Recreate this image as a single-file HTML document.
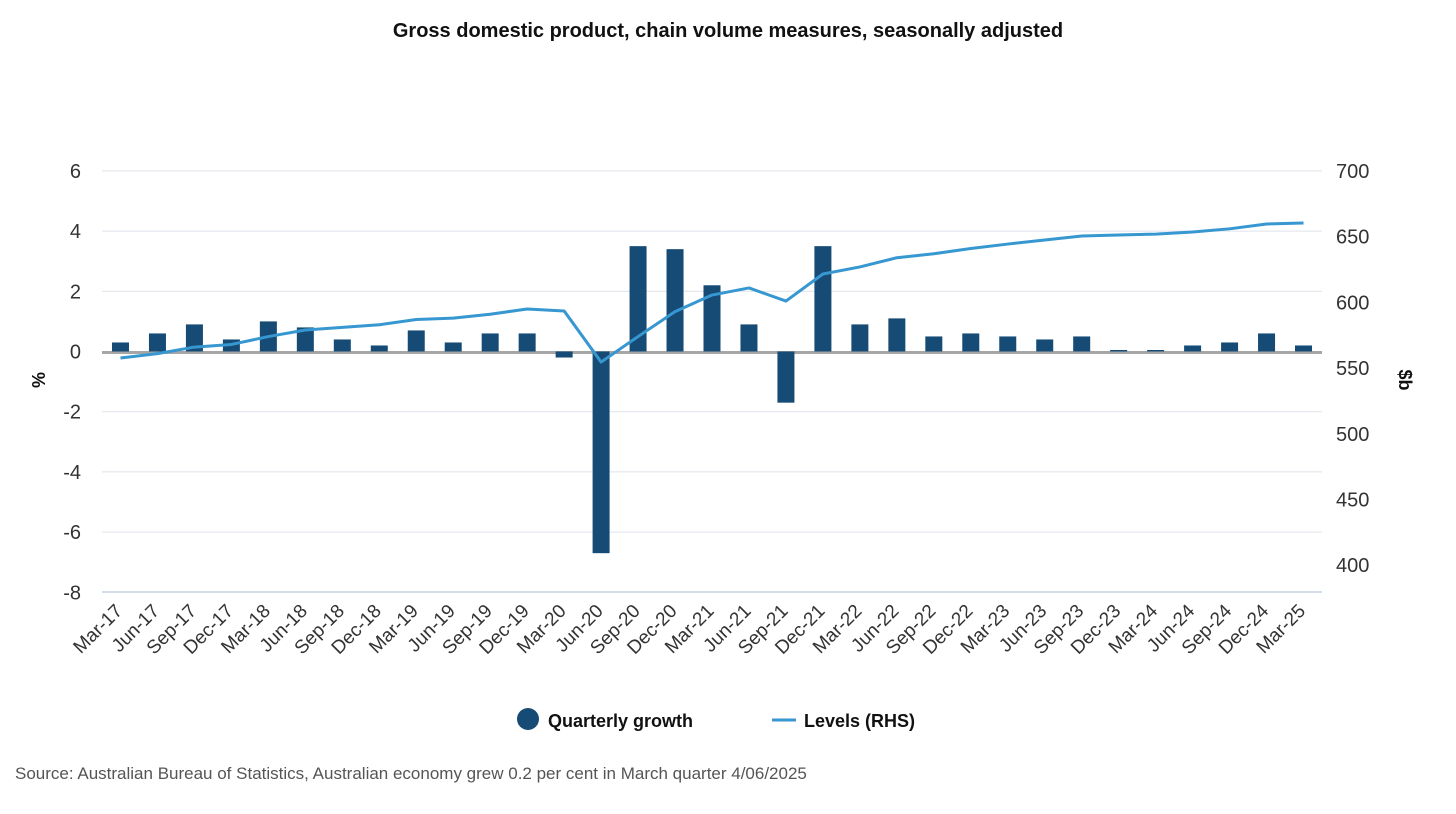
<!DOCTYPE html>
<html><head><meta charset="utf-8"><style>
body{margin:0;background:#fff;font-family:"Liberation Sans",Arial,sans-serif}
svg text{font-family:"Liberation Sans",Arial,sans-serif}
</style></head><body>
<svg id="c" width="1456" height="809" viewBox="0 0 1456 809">
<text x="728" y="37" text-anchor="middle" font-size="20" font-weight="bold" fill="#111">Gross domestic product, chain volume measures, seasonally adjusted</text>
<g id="grid"></g><g id="bars"></g><g id="line"></g><g id="axes"></g>
<text transform="translate(45,380) rotate(-90)" text-anchor="middle" font-size="18" font-weight="bold" fill="#111">%</text>
<text transform="translate(1399,380) rotate(90)" text-anchor="middle" font-size="18" font-weight="bold" fill="#111">$b</text>
<g>
<circle cx="528" cy="719" r="11" fill="#154b75"/>
<text x="548" y="727" font-size="18" font-weight="bold" fill="#111">Quarterly growth</text>
<line x1="772" y1="720" x2="796" y2="720" stroke="#3797d0" stroke-width="3"/>
<text x="804" y="727" font-size="18" font-weight="bold" fill="#111">Levels (RHS)</text>
</g>
<text x="15" y="779" font-size="17" fill="#555">Source: Australian Bureau of Statistics, Australian economy grew 0.2 per cent in March quarter 4/06/2025</text>
</svg>
<script>
const categories=["Mar-17","Jun-17","Sep-17","Dec-17","Mar-18","Jun-18","Sep-18","Dec-18","Mar-19","Jun-19","Sep-19","Dec-19","Mar-20","Jun-20","Sep-20","Dec-20","Mar-21","Jun-21","Sep-21","Dec-21","Mar-22","Jun-22","Sep-22","Dec-22","Mar-23","Jun-23","Sep-23","Dec-23","Mar-24","Jun-24","Sep-24","Dec-24","Mar-25"];
const growth=[0.3,0.6,0.9,0.4,1.0,0.8,0.4,0.2,0.7,0.3,0.6,0.6,-0.2,-6.7,3.5,3.4,2.2,0.9,-1.7,3.5,0.9,1.1,0.5,0.6,0.5,0.4,0.5,0.05,0.05,0.2,0.3,0.6,0.2];
const levels=[557.7,561,566,568,574,579,581,583,587,588,591,595,593.5,554.6,574,593,605.6,611,601,621.6,627,634,637,641,644.4,647.5,650.5,651.3,652,653.6,656,659.7,660.4];
const leftTicks=[6,4,2,0,-2,-4,-6,-8];
const rightTicks=[700,650,600,550,500,450,400];
const NS="http://www.w3.org/2000/svg";
const L=102,R=1322,band=(R-L)/categories.length;
const x=i=>L+band*(i+0.5);
const yL=v=>351.5-(v)*30.1;
const yR=v=>171+(700-v)*1.314;
function mk(p,tag,a){const e=document.createElementNS(NS,tag);for(const k in a)e.setAttribute(k,a[k]);document.getElementById(p).appendChild(e);return e;}
leftTicks.forEach(t=>{
 if(t!==-8&&t!==0){const g=mk("grid","line",{x1:L,x2:R,y1:yL(t),y2:yL(t),stroke:"#dde3ea","stroke-width":1});
 
 }
 const tx=mk("axes","text",{x:81,y:yL(t)+7,"text-anchor":"end","font-size":20,fill:"#333"});tx.textContent=t;
 
 
});
rightTicks.forEach(t=>{
 const tx=mk("axes","text",{x:1336,y:yR(t)+7,"font-size":20,fill:"#333"});tx.textContent=t;
 
 
});
const base=mk("grid","line",{x1:L,x2:R,y1:592,y2:592,stroke:"#c5d3e0","stroke-width":1.5});


const z=mk("grid","line",{x1:L,x2:R,y1:yL(0)+1,y2:yL(0)+1,stroke:"#a6a6a6","stroke-width":3});


growth.forEach((v,i)=>{
 const y0=yL(0),y1=yL(v);
 const b=mk("bars","rect",{x:x(i)-8.5,y:Math.min(y0,y1),width:17,height:Math.max(1.5,Math.abs(y1-y0)),fill:"#154b75"});
 
 
 const tx=mk("axes","text",{transform:`translate(${x(i)+3},${612}) rotate(-45)`,"text-anchor":"end","font-size":19,fill:"#333"});tx.textContent=categories[i];
 
 
});
const ln=mk("line","polyline",{points:levels.map((v,i)=>x(i)+","+yR(v)).join(" "),fill:"none",stroke:"#3797d0","stroke-width":3,"stroke-linejoin":"round"});


</script>
</body></html>
